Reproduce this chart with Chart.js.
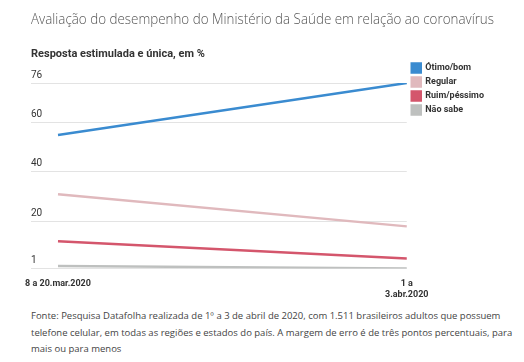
<!DOCTYPE html>
<html>
<head>
<meta charset="utf-8">
<script src="https://cdn.jsdelivr.net/npm/chart.js@4/dist/chart.umd.min.js"></script>
<style>
  html, body { margin: 0; padding: 0; background: #fff; }
  body { width: 524px; height: 362px; overflow: hidden; }
  .chart-box { position: relative; width: 524px; height: 310px; }
  .source { margin: -2px 0 0 31px; white-space: nowrap; font: 9.5px/16.5px "Open Sans", sans-serif; color: #444; }
</style>
</head>
<body>
<div class="chart-box"><canvas id="chart"></canvas></div>
<p class="source">Fonte: Pesquisa Datafolha realizada de 1º a 3 de abril de 2020, com 1.511 brasileiros adultos que possuem<br>telefone celular, em todas as regiões e estados do país. A margem de erro é de três pontos percentuais, para<br>mais ou para menos</p>
<script>
  "use strict";

  const periods = ["8 a 20.mar.2020", ["1 a", "3.abr.2020"]];
  const otimoBom = [55, 76];
  const regular = [31, 18];
  const ruimPessimo = [12, 5];
  const naoSabe = [2, 1];
  const yTicks = [1, 20, 40, 60, 76];

  const p = {
    text: "#333",
    title: "#555",
    grid: "#e3e3e3",
    blue: "#3a8bd0",
    pink: "#e0b9bd",
    red: "#d4566c",
    gray: "#bec0bf"
  };

  function series(label, data, color) {
    return {
      label,
      data,
      borderColor: color,
      backgroundColor: color,
      borderWidth: 2.5,
      pointRadius: 0,
      tension: 0
    };
  }

  new Chart(document.getElementById("chart"), {
    type: "line",
    data: {
      labels: periods,
      datasets: [
        series("Ótimo/bom", otimoBom, p.blue),
        series("Regular", regular, p.pink),
        series("Ruim/péssimo", ruimPessimo, p.red),
        series("Não sabe", naoSabe, p.gray)
      ]
    },
    options: {
      responsive: true,
      maintainAspectRatio: false,
      animation: false,
      layout: { padding: { left: 31, right: 30, top: 12, bottom: 0 } },
      plugins: {
        title: {
          display: true,
          text: "Avaliação do desempenho do Ministério da Saúde em relação ao coronavírus",
          align: "start",
          color: p.title,
          font: { family: "Open Sans", size: 14, weight: "300" },
          padding: { top: 0, bottom: 19 }
        },
        subtitle: {
          display: true,
          text: "Resposta estimulada e única, em %",
          align: "start",
          color: p.text,
          font: { family: "Roboto", size: 11, weight: "bold" },
          padding: { top: 0, bottom: 22 }
        },
        legend: {
          position: "right",
          align: "start",
          title: { display: true, text: " ", font: { size: 9 }, padding: { top: 0, bottom: 35.7 } },
          labels: {
            color: p.text,
            boxWidth: 9,
            boxHeight: 9,
            padding: 5,
            font: { family: "Roboto", size: 9, weight: "bold" }
          }
        },
        tooltip: { enabled: false }
      },
      scales: {
        x: {
          offset: false,
          grid: { display: false, drawTicks: false },
          border: { display: false },
          ticks: {
            color: p.text,
            maxRotation: 0,
            autoSkip: false,
            padding: 10,
            font: { family: "Roboto", size: 9, weight: "bold", lineHeight: 1.2 }
          }
        },
        y: {
          min: 1,
          max: 76,
          afterBuildTicks: (axis) => { axis.ticks = yTicks.map((v) => ({ value: v })); },
          afterFit: (axis) => { axis.width = 27; },
          grid: { color: p.grid, lineWidth: 1, tickLength: 27, drawTicks: true },
          border: { display: false },
          ticks: {
            color: p.text,
            crossAlign: "far",
            padding: 0,
            labelOffset: -8,
            font: { family: "Roboto", size: 10 }
          }
        }
      }
    }
  });
</script>
</body>
</html>
